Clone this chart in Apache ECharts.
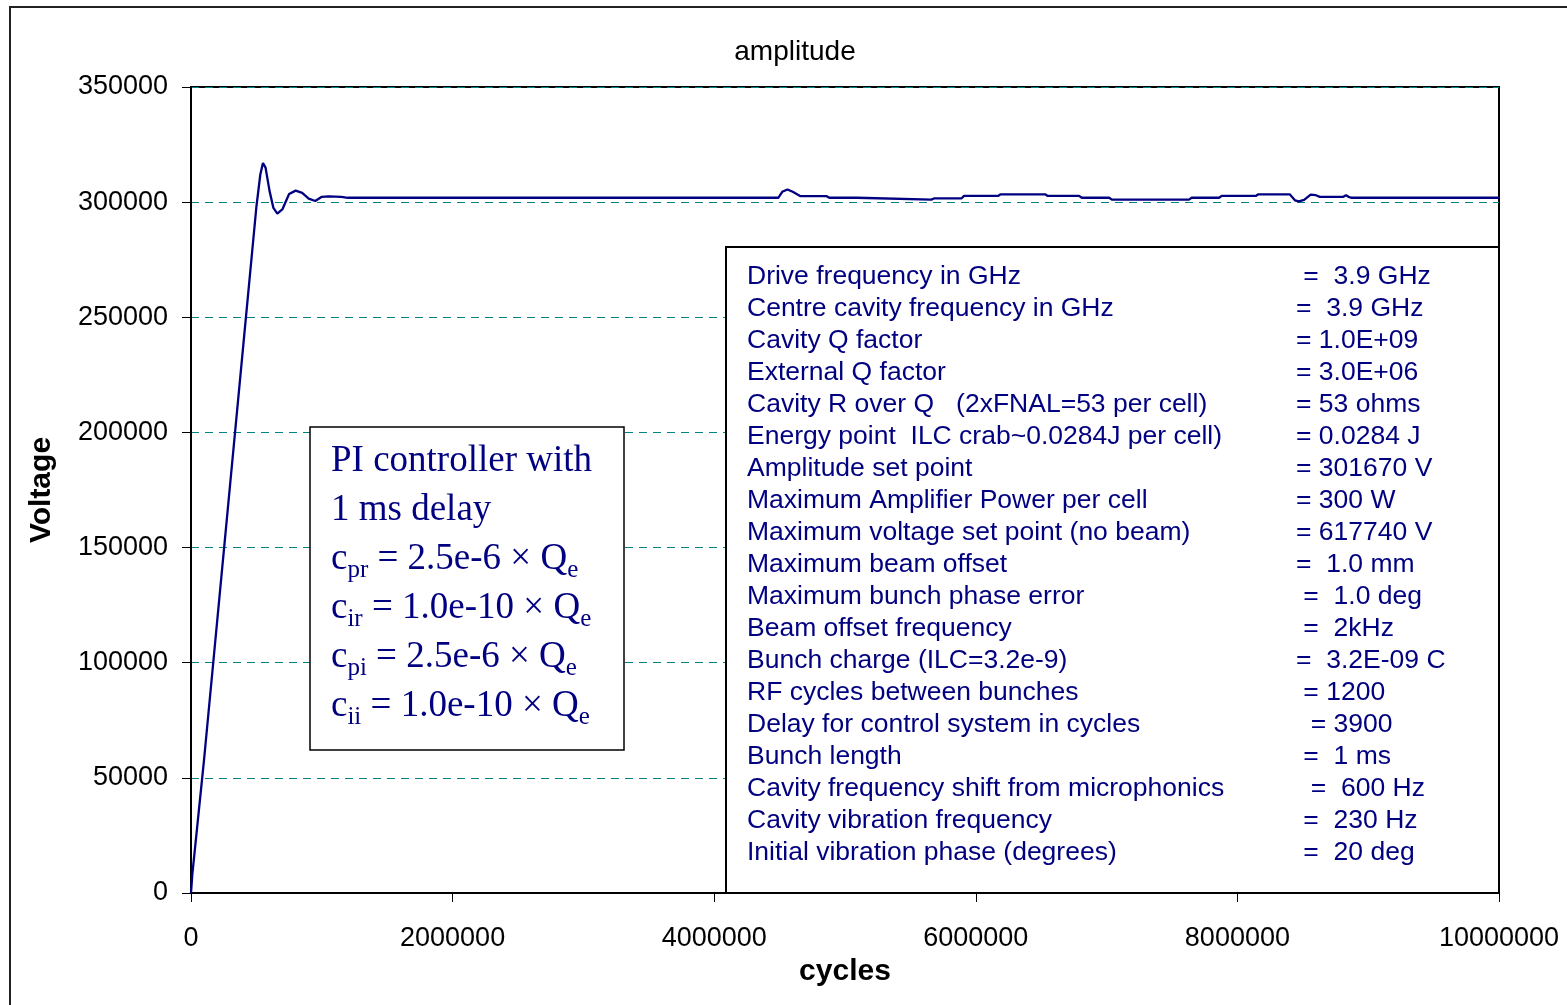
<!DOCTYPE html>
<html><head><meta charset="utf-8">
<script src="https://cdn.jsdelivr.net/npm/echarts@6/dist/echarts.min.js"></script>
<style>html,body{margin:0;padding:0;background:#fff}#c{width:1567px;height:1005px}</style>
</head><body><div id="c"></div>
<script>
// ---- data ----
const cycles = [0, 10000, 100000, 200000, 300000, 400000, 500000, 530000, 550000, 570000, 600000, 630000, 660000, 700000, 750000, 800000, 850000, 900000, 950000, 1000000, 1050000, 1150000, 1200000,
  4490000, 4520000, 4560000, 4600000, 4660000, 4860000, 4880000, 5090000, 5100000, 5660000, 5680000, 5890000, 5910000, 6170000, 6190000, 6530000, 6550000, 6790000, 6810000, 7020000, 7040000,
  7630000, 7650000, 7860000, 7880000, 8140000, 8160000, 8400000, 8440000, 8470000, 8510000, 8560000, 8600000, 8630000, 8810000, 8830000, 8850000, 8870000, 10000000];
const voltage = [0, 8000, 58000, 118000, 178000, 238000, 298000, 312000, 317000, 315000, 305000, 297500, 295000, 297000, 303500, 305000, 304000, 301500, 300500, 302300, 302500, 302300, 301900,
  301900, 304500, 305500, 304500, 302600, 302600, 301900, 301900, 301100, 301100, 301600, 301600, 302700, 302700, 303400, 303400, 302700, 302700, 301900, 301900, 301100,
  301100, 301900, 301900, 302700, 302700, 303400, 303400, 300800, 300300, 301000, 303300, 303000, 302300, 302300, 303000, 302300, 301900, 301900];
const xMin = 0, xMax = 10000000, xStep = 2000000;
const yMin = 0, yMax = 350000, yStep = 50000;
const titleText = 'amplitude';
const xName = 'cycles';
const yName = 'Voltage';
const paramNames = [
  'Drive frequency in GHz',
  'Centre cavity frequency in GHz',
  'Cavity Q factor',
  'External Q factor',
  'Cavity R over Q   (2xFNAL=53 per cell)',
  'Energy point  ILC crab~0.0284J per cell)',
  'Amplitude set point',
  'Maximum Amplifier Power per cell',
  'Maximum voltage set point (no beam)',
  'Maximum beam offset',
  'Maximum bunch phase error',
  'Beam offset frequency',
  'Bunch charge (ILC=3.2e-9)',
  'RF cycles between bunches',
  'Delay for control system in cycles',
  'Bunch length',
  'Cavity frequency shift from microphonics',
  'Cavity vibration frequency',
  'Initial vibration phase (degrees)'
];
const paramValues = [
  ' =  3.9 GHz',
  '=  3.9 GHz',
  '= 1.0E+09',
  '= 3.0E+06',
  '= 53 ohms',
  '= 0.0284 J',
  '= 301670 V',
  '= 300 W',
  '= 617740 V',
  '=  1.0 mm',
  ' =  1.0 deg',
  ' =  2kHz',
  '=  3.2E-09 C',
  ' = 1200',
  '  = 3900',
  ' =  1 ms',
  '  =  600 Hz',
  ' =  230 Hz',
  ' =  20 deg'
];
const controllerLines = [
  'PI controller with',
  '1 ms delay',
  'c{s|pr} = 2.5e-6 × Q{s|e}',
  'c{s|ir} = 1.0e-10 × Q{s|e}',
  'c{s|pi} = 2.5e-6 × Q{s|e}',
  'c{s|ii} = 1.0e-10 × Q{s|e}'
];

// ---- chart ----
const sans = 'Arial, "Liberation Sans", sans-serif';
const serif = '"Times New Roman", "Liberation Serif", serif';
const navy = '#000080';
const chart = echarts.init(document.getElementById('c'), null, {renderer: 'canvas'});
chart.setOption({
  animation: false,
  backgroundColor: '#fff',
  grid: {left: 191, right: 68, top: 87, bottom: 112, show: true, borderColor: '#000', borderWidth: 2},
  xAxis: {
    type: 'value', min: xMin, max: xMax, interval: xStep,
    name: xName, nameLocation: 'middle', nameGap: 54,
    nameTextStyle: {fontFamily: sans, fontSize: 30, fontWeight: 'bold', color: '#000'},
    axisLine: {show: true, onZero: false, lineStyle: {color: '#000', width: 2}},
    axisTick: {show: true, inside: false, length: 9, lineStyle: {color: '#000', width: 1}},
    axisLabel: {show: true, margin: 32, fontFamily: sans, fontSize: 27, color: '#000', formatter: v => String(v), showMaxLabel: true, showMinLabel: true},
    splitLine: {show: false}
  },
  yAxis: {
    type: 'value', min: yMin, max: yMax, interval: yStep,
    name: yName, nameLocation: 'middle', nameGap: 134,
    nameTextStyle: {fontFamily: sans, fontSize: 30, fontWeight: 'bold', color: '#000'},
    axisLine: {show: true, onZero: false, lineStyle: {color: '#000', width: 2}},
    axisTick: {show: true, inside: false, length: 9, lineStyle: {color: '#000', width: 1}},
    axisLabel: {show: true, margin: 23, fontFamily: sans, fontSize: 27, color: '#000', formatter: v => String(v)},
    splitLine: {show: true, lineStyle: {color: '#008080', width: 1, type: [8, 6]}}
  },
  series: [{
    type: 'line',
    data: cycles.map((c, i) => [c, voltage[i]]),
    showSymbol: false,
    lineStyle: {color: navy, width: 2.3},
    z: 3
  }],
  graphic: [
    {type: 'rect', z: 50, silent: true, shape: {x: 10, y: 7, width: 1640, height: 1100},
      style: {fill: 'none', stroke: '#222', lineWidth: 2}},
    {type: 'text', z: 60, style: {text: titleText, x: 795, y: 52, align: 'center', verticalAlign: 'middle',
      fontFamily: sans, fontSize: 28, fill: '#000'}},
    // PI controller box
    {type: 'rect', z: 100, shape: {x: 310, y: 427, width: 314, height: 323},
      style: {fill: '#fff', stroke: '#000', lineWidth: 1.5}},
    {type: 'text', z: 101, style: {
      text: controllerLines.join('\n'), x: 331, y: 437, align: 'left', verticalAlign: 'top',
      fontFamily: serif, fontSize: 37, lineHeight: 49, fill: navy,
      rich: {s: {fontFamily: serif, fontSize: 25, lineHeight: 25, padding: [22, 0, 0, 0], verticalAlign: 'middle', fill: navy}}
    }},
    // parameter box
    {type: 'rect', z: 100, shape: {x: 726, y: 247, width: 773, height: 646},
      style: {fill: '#fff', stroke: '#000', lineWidth: 2}},
    {type: 'text', z: 101, style: {
      text: paramNames.join('\n'), x: 747, y: 261, align: 'left', verticalAlign: 'top',
      fontFamily: sans, fontSize: 26.5, lineHeight: 32, fill: navy}},
    {type: 'text', z: 101, style: {
      text: paramValues.join('\n'), x: 1296, y: 261, align: 'left', verticalAlign: 'top',
      fontFamily: sans, fontSize: 26.5, lineHeight: 32, fill: navy}}
  ]
});
</script>
</body></html>
